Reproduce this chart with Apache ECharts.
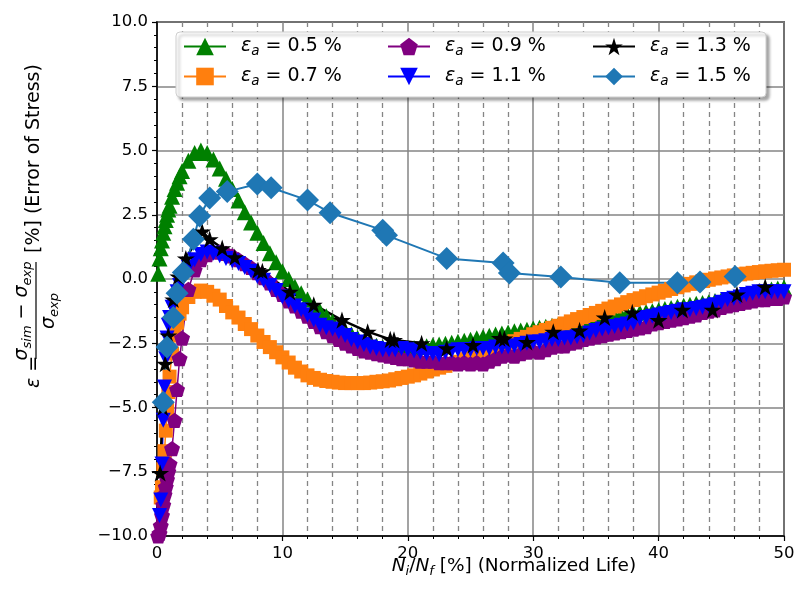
<!DOCTYPE html>
<html><head><meta charset="utf-8">
<script src="https://cdn.jsdelivr.net/npm/echarts@6/dist/echarts.min.js"></script>
<style>html,body{margin:0;padding:0;background:#fff}#c{width:800px;height:606px}</style>
</head><body><div id="c"></div>
<script>
// Normalized life (x) shared by the densely sampled series
const lifeX = [0.1,0.2,0.3,0.4,0.5,0.6,0.7,0.8,0.9,1.0,
  1.2,1.4,1.6,1.8,2.0,
  2.5,3.0,3.5,4.0,4.5,5.0,5.5,6.0,6.5,7.0,
  7.5,8.0,8.5,9.0,9.5,10.0,10.5,11.0,11.5,12.0,
  12.5,13.0,13.5,14.0,14.5,15.0,15.5,16.0,16.5,17.0,
  17.5,18.0,18.5,19.0,19.5,20.0,20.5,21.0,21.5,22.0,
  22.5,23.0,23.5,24.0,24.5,25.0,25.5,26.0,26.5,27.0,
  27.5,28.0,28.5,29.0,29.5,30.0,30.5,31.0,31.5,32.0,
  32.5,33.0,33.5,34.0,34.5,35.0,35.5,36.0,36.5,37.0,
  37.5,38.0,38.5,39.0,39.5,40.0,40.5,41.0,41.5,42.0,
  42.5,43.0,43.5,44.0,44.5,45.0,45.5,46.0,46.5,47.0,
  47.5,48.0,48.5,49.0,49.5,50.0];

// eps_a = 0.5 %
const eps05 = [0.2,0.8,1.2,1.5,1.8,2.05,2.3,2.5,2.7,2.85,
  3.2,3.5,3.75,4.0,4.2,
  4.6,4.9,5.0,4.9,4.65,4.3,3.9,3.5,3.05,2.6,
  2.2,1.8,1.4,1.0,0.65,0.3,0.0,-0.3,-0.55,-0.8,
  -1.05,-1.25,-1.45,-1.65,-1.85,-2.0,-2.15,-2.3,-2.42,-2.52,
  -2.6,-2.66,-2.7,-2.72,-2.72,-2.7,-2.68,-2.65,-2.62,-2.58,
  -2.55,-2.52,-2.48,-2.44,-2.4,-2.36,-2.31,-2.26,-2.21,-2.16,
  -2.12,-2.08,-2.03,-2.0,-1.97,-1.93,-1.9,-1.86,-1.82,-1.78,
  -1.73,-1.68,-1.63,-1.6,-1.57,-1.54,-1.5,-1.47,-1.44,-1.4,
  -1.37,-1.34,-1.31,-1.28,-1.25,-1.22,-1.17,-1.13,-1.08,-1.04,
  -1.0,-0.96,-0.93,-0.9,-0.86,-0.82,-0.77,-0.72,-0.67,-0.62,
  -0.56,-0.51,-0.46,-0.41,-0.37,-0.33];

// eps_a = 0.7 %
const eps07 = [null,null,-8.5,-8.1,-7.4,-6.7,-5.9,-5.1,-4.4,-3.8,
  -2.9,-2.2,-1.7,-1.35,-1.1,
  -0.7,-0.5,-0.45,-0.5,-0.65,-0.8,-1.05,-1.3,-1.5,-1.75,
  -1.95,-2.2,-2.45,-2.65,-2.85,-3.05,-3.25,-3.45,-3.6,-3.75,
  -3.85,-3.92,-3.97,-4.0,-4.03,-4.05,-4.05,-4.05,-4.05,-4.03,
  -4.0,-3.98,-3.95,-3.9,-3.85,-3.8,-3.75,-3.68,-3.6,-3.52,
  -3.45,-3.38,-3.3,-3.22,-3.12,-3.03,-2.95,-2.86,-2.77,-2.68,
  -2.6,-2.5,-2.42,-2.33,-2.25,-2.15,-2.07,-1.98,-1.9,-1.82,
  -1.73,-1.65,-1.56,-1.48,-1.4,-1.32,-1.24,-1.15,-1.07,-0.99,
  -0.9,-0.82,-0.75,-0.67,-0.6,-0.53,-0.46,-0.39,-0.32,-0.25,
  -0.19,-0.13,-0.08,-0.03,0.02,0.06,0.1,0.14,0.18,0.21,
  0.24,0.27,0.3,0.32,0.34,0.36];

// eps_a = 0.9 %
const eps09 = [-10.0,-9.9,-9.6,-9.2,-8.8,-8.4,-8.1,-7.8,-7.5,-7.2,
  -6.6,-5.5,-4.3,-3.1,-2.3,
  -0.4,0.35,0.75,0.95,1.05,1.05,1.0,0.9,0.75,0.6,
  0.45,0.25,0.05,-0.15,-0.4,-0.6,-0.85,-1.05,-1.25,-1.45,
  -1.65,-1.85,-2.05,-2.2,-2.35,-2.5,-2.6,-2.7,-2.8,-2.85,
  -2.9,-2.95,-3.0,-3.05,-3.1,-3.1,-3.15,-3.2,-3.2,-3.2,
  -3.25,-3.25,-3.25,-3.3,-3.25,-3.3,-3.25,-3.3,-3.2,-3.1,
  -3.0,-2.95,-3.0,-2.9,-2.85,-2.8,-2.85,-2.75,-2.65,-2.6,
  -2.6,-2.5,-2.45,-2.35,-2.3,-2.25,-2.2,-2.15,-2.1,-2.05,
  -2.0,-1.95,-1.9,-1.85,-1.75,-1.7,-1.65,-1.6,-1.55,-1.5,
  -1.45,-1.4,-1.3,-1.25,-1.2,-1.1,-1.05,-1.0,-0.95,-0.9,
  -0.85,-0.8,-0.8,-0.75,-0.75,-0.7];

// eps_a = 1.1 %
const eps11 = [null,-9.2,-8.6,-7.2,-5.5,-4.2,-3.1,-2.3,-1.8,-1.5,
  -1.1,-0.8,-0.5,-0.25,0.0,
  0.45,0.75,0.95,1.05,1.0,0.9,0.8,0.7,0.6,0.45,
  0.3,0.1,-0.05,-0.25,-0.45,-0.7,-0.85,-1.05,-1.2,-1.4,
  -1.6,-1.8,-1.9,-1.95,-2.05,-2.2,-2.35,-2.45,-2.55,-2.65,
  -2.7,-2.75,-2.75,-2.75,-2.7,-2.75,-2.8,-2.85,-2.9,-2.9,
  -2.95,-2.85,-2.8,-2.75,-2.75,-2.75,-2.7,-2.7,-2.7,-2.65,
  -2.65,-2.65,-2.6,-2.55,-2.5,-2.45,-2.45,-2.4,-2.35,-2.35,
  -2.3,-2.3,-2.25,-2.2,-2.1,-2.0,-1.95,-1.9,-1.85,-1.8,
  -1.75,-1.7,-1.55,-1.5,-1.45,-1.4,-1.35,-1.3,-1.25,-1.2,
  -1.2,-1.15,-1.1,-1.05,-1.0,-0.9,-0.8,-0.75,-0.7,-0.6,
  -0.55,-0.5,-0.5,-0.5,-0.5,-0.5];

// eps_a = 1.3 %
const life13 = [0.25,0.45,0.65,0.9,1.3,1.7,2.3,3.6,4.2,5.2,6.2,8.05,8.4,10.6,12.5,14.75,16.8,18.6,18.9,21.1,23.1,25.2,27.35,27.7,29.5,31.6,33.7,35.7,37.9,40.0,41.9,44.3,46.25,48.5,51.0];
const eps13 = [-7.55,-5.0,-3.3,-2.2,-0.8,0.1,0.8,1.85,1.55,1.2,0.85,0.35,0.3,-0.5,-1.0,-1.6,-2.05,-2.35,-2.37,-2.5,-2.7,-2.57,-2.3,-2.32,-2.45,-2.05,-2.0,-1.5,-1.3,-1.6,-1.2,-1.2,-0.6,-0.3,-0.65];

// eps_a = 1.5 %
const life15 = [0.5,0.8,1.3,1.6,2.1,2.9,3.4,4.2,5.6,8.0,9.1,12.0,13.8,18.0,18.3,23.1,27.6,28.1,32.2,36.9,41.5,43.3,46.1,53.0];
const eps15 = [-4.8,-2.65,-1.5,-0.55,0.25,1.55,2.45,3.15,3.4,3.7,3.55,3.07,2.58,1.9,1.7,0.8,0.62,0.23,0.08,-0.15,-0.15,-0.12,0.1,0.15];

const strainLabels = ['0.5','0.7','0.9','1.1','1.3','1.5'];

function pairs(xs, ys) {
  const out = [];
  for (let i = 0; i < xs.length; i++) if (ys[i] !== null) out.push([xs[i], ys[i]]);
  return out;
}

const FONT = 'DejaVu Sans';
const STAR = 'path://M0,-1L0.2245,-0.309L0.951,-0.309L0.363,0.118L0.588,0.809L0,0.382L-0.588,0.809L-0.363,0.118L-0.951,-0.309L-0.2245,-0.309Z';
const PENT = 'path://M0,-1L0.951,-0.309L0.588,0.809L-0.588,0.809L-0.951,-0.309Z';

function mkSeries(name, data, color, symbol, size, lw, rot) {
  return {
    type: 'line', name: name, data: data, symbol: symbol, symbolSize: size,
    symbolRotate: rot || 0, symbolKeepAspect: true,
    showSymbol: true, showAllSymbol: true, clip: true, silent: true,
    lineStyle: { color: color, width: lw },
    itemStyle: { color: color, borderWidth: 0 },
    emphasis: { disabled: true }, animation: false, z: 2
  };
}

const series = [
  mkSeries(strainLabels[0], pairs(lifeX, eps05), '#008000', 'triangle', 16, 1.5),
  mkSeries(strainLabels[1], pairs(lifeX, eps07), '#ff7f0e', 'rect', 14, 1.5),
  mkSeries(strainLabels[2], pairs(lifeX, eps09), '#800080', PENT, 16, 1.5),
  mkSeries(strainLabels[3], pairs(lifeX, eps11), '#0000ff', 'triangle', 15, 1.5, 180),
  mkSeries(strainLabels[4], pairs(life13, eps13), '#000000', STAR, 18, 2.5),
  mkSeries(strainLabels[5], pairs(life15, eps15), '#1f77b4', 'diamond', 23, 2)
];

const legRich = {
  p: { width: 10, fontSize: 19, fontFamily: FONT },
  e: { fontStyle: 'italic', fontSize: 19, fontFamily: FONT, lineHeight: 24, color: '#000' },
  s: { fontStyle: 'italic', fontSize: 13.5, fontFamily: FONT, verticalAlign: 'bottom', color: '#000' },
  t: { fontSize: 19, fontFamily: FONT, lineHeight: 24, color: '#000' }
};
const colLeft = [183, 387, 592];
const rowTop = [37, 67];
const legOrder = [[strainLabels[0], strainLabels[1]], [strainLabels[2], strainLabels[3]], [strainLabels[4], strainLabels[5]]];
const legends = [];
for (let c = 0; c < 3; c++) for (let r = 0; r < 2; r++) {
  legends.push({
    data: [legOrder[c][r]], left: colLeft[c], top: rowTop[r], padding: 0,
    itemWidth: 42, itemHeight: 22, selectedMode: false, z: 5,
    formatter: function (n) { return '{p| }{e|ε}{s|a}{t| = ' + n + ' %}'; },
    textStyle: { fontFamily: FONT, fontSize: 19, color: '#000', rich: legRich }
  });
}

const lblRich = {
  i: { fontStyle: 'italic', fontSize: 19, fontFamily: FONT, lineHeight: 24, color: '#000' },
  s: { fontStyle: 'italic', fontSize: 13, fontFamily: FONT, verticalAlign: 'bottom', color: '#000' },
  t: { fontSize: 19, fontFamily: FONT, lineHeight: 24, color: '#000' }
};
const xRich = {
  i: { fontStyle: 'italic', fontSize: 18.5, fontFamily: FONT, lineHeight: 24, color: '#000' },
  s: { fontStyle: 'italic', fontSize: 13, fontFamily: FONT, verticalAlign: 'bottom', color: '#000' },
  t: { fontSize: 18.5, fontFamily: FONT, lineHeight: 24, color: '#000' }
};
function rotText(txt, x, y, align, rich) {
  return { type: 'text', x: x, y: y, rotation: Math.PI / 2, silent: true, z: 5,
    style: { text: txt, rich: rich, fontFamily: FONT, fontSize: 19, fill: '#000', align: align, verticalAlign: 'middle' } };
}

const option = {
  animation: false,
  backgroundColor: '#ffffff',
  grid: { left: 157, right: 16, top: 22, bottom: 70, show: true, borderColor: '#000', borderWidth: 1.5, backgroundColor: 'transparent', outerBoundsMode: 'none', containLabel: false },
  legend: legends,
  xAxis: {
    type: 'value', min: 0, max: 50, interval: 10,
    axisLine: { show: true, onZero: false, lineStyle: { color: '#000', width: 1.5 } },
    axisTick: { show: true, inside: false, length: 5, lineStyle: { color: '#000', width: 1.2 } },
    minorTick: { show: true, splitNumber: 5, length: 3, lineStyle: { color: '#000', width: 1 } },
    axisLabel: { show: true, margin: 9, fontFamily: FONT, fontSize: 16.5, color: '#000', formatter: function (v) { return String(v); } },
    splitLine: { show: true, lineStyle: { color: '#858585', width: 1.5, type: 'solid' } },
    minorSplitLine: { show: true, lineStyle: { color: '#858585', width: 1.3, type: [5, 4] } }
  },
  yAxis: {
    type: 'value', min: -10, max: 10, interval: 2.5,
    axisLine: { show: true, onZero: false, lineStyle: { color: '#000', width: 1.5 } },
    axisTick: { show: true, inside: false, length: 5, lineStyle: { color: '#000', width: 1.2 } },
    minorTick: { show: true, splitNumber: 5, length: 3, lineStyle: { color: '#000', width: 1 } },
    axisLabel: { show: true, margin: 9, fontFamily: FONT, fontSize: 16.5, color: '#000',
      formatter: function (v) { return (v < 0 ? '\u2212' : '') + Math.abs(v).toFixed(1); } },
    splitLine: { show: true, lineStyle: { color: '#858585', width: 1.5 } },
    minorSplitLine: { show: false }
  },
  graphic: [
    { type: 'rect', z: 3, silent: true,
      shape: { x: 176, y: 32, width: 590, height: 65, r: 4 },
      style: { fill: '#ffffff', stroke: '#cfcfcf', lineWidth: 1, shadowBlur: 3, shadowOffsetX: 3, shadowOffsetY: 3, shadowColor: 'rgba(0,0,0,0.35)' } },
    // y-axis title, built from rotated pieces
    rotText('{i|ε}{t| =}', 34, 372, 'center', lblRich),
    { type: 'line', silent: true, z: 5, shape: { x1: 36, y1: 359, x2: 36, y2: 262 }, style: { stroke: '#000', lineWidth: 1.2 } },
    rotText('{i|σ}{s|sim}{t| − }{i|σ}{s|exp}', 22, 311, 'center', lblRich),
    rotText('{i|σ}{s|exp}', 49, 311, 'center', lblRich),
    rotText('{t|[%] (Error of Stress)}', 34, 253, 'left', lblRich),
    // x-axis title
    { type: 'text', x: 514, y: 566, silent: true, z: 5,
      style: { text: '{i|N}{s|i}{t|/}{i|N}{s|f}{t| [%] (Normalized Life)}', rich: xRich, fontFamily: FONT, fontSize: 18.5, fill: '#000', align: 'center', verticalAlign: 'middle' } }
  ],
  series: series
};

const chart = echarts.init(document.getElementById('c'), null, { renderer: 'canvas' });
chart.setOption(option);
</script>
</body></html>
